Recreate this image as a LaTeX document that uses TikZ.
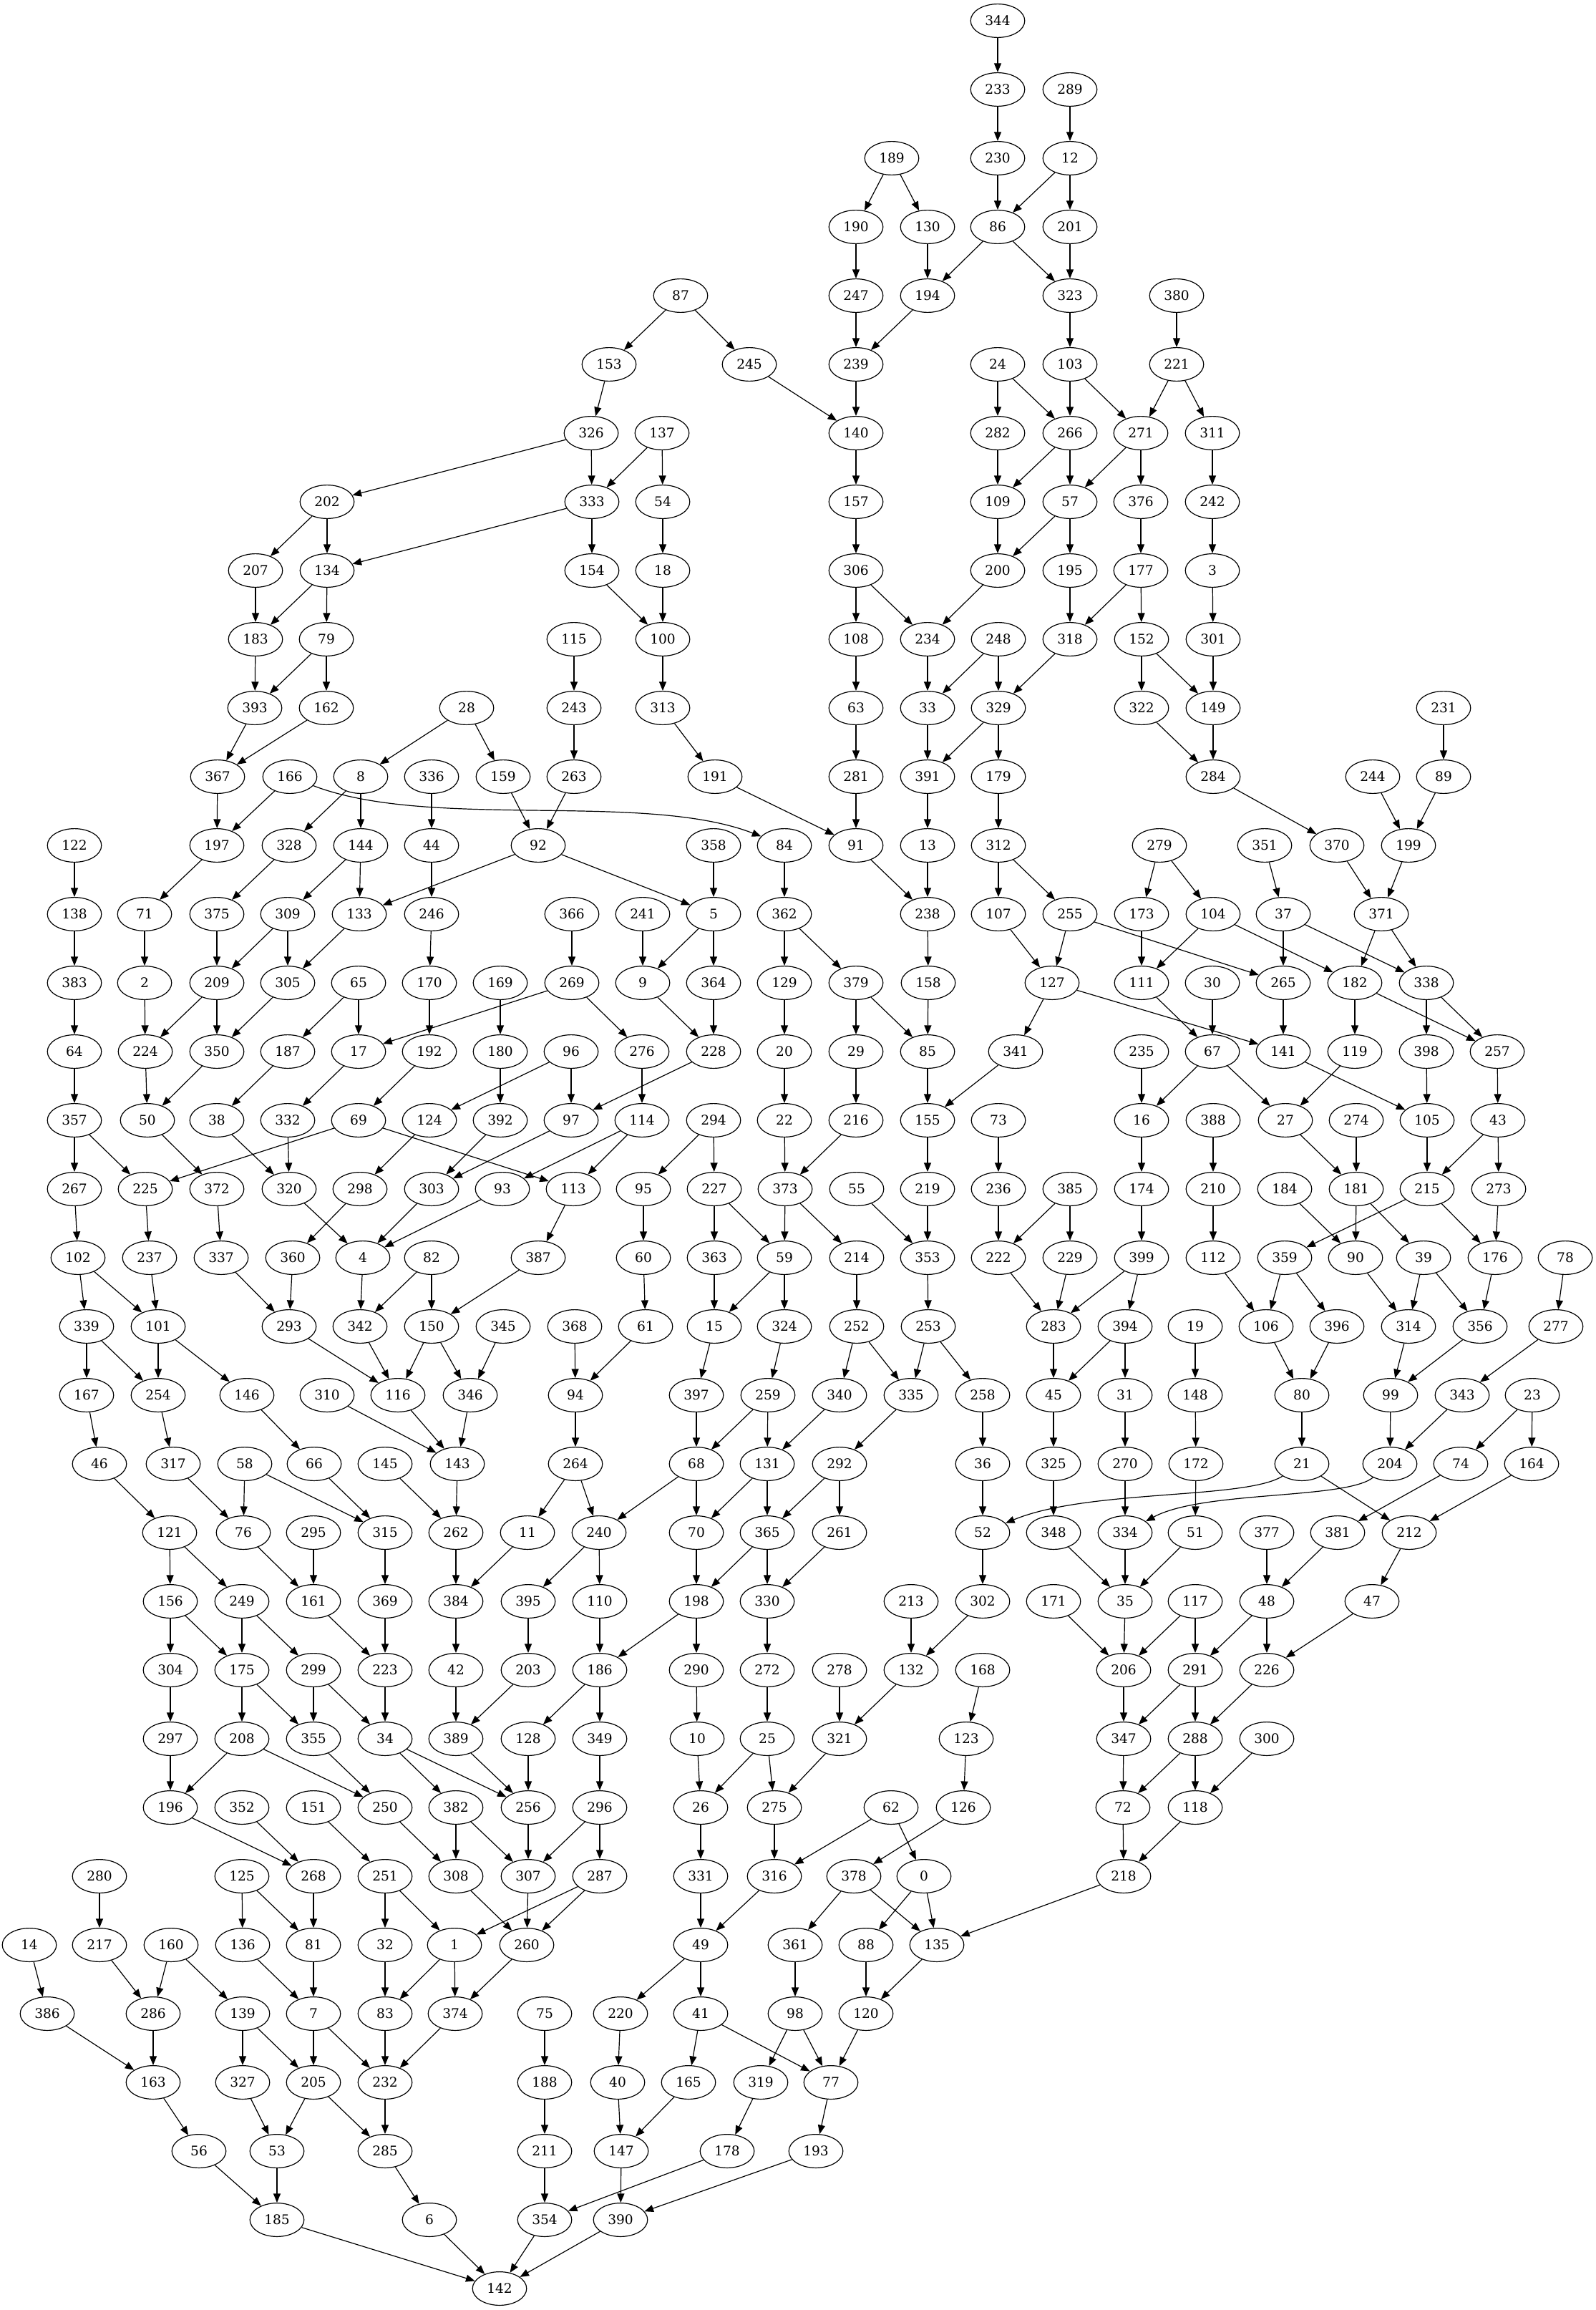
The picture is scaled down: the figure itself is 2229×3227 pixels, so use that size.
\documentclass[tikz,border=0pt]{standalone}
\usepackage{fontspec}
\setmainfont{DejaVu Serif}
\usepackage{tikz}
\usetikzlibrary{shapes.geometric, arrows.meta}
\tikzset{
    oval/.style={ellipse, draw, line width=0.6pt, minimum width=37.8pt, minimum height=23.4pt, inner sep=0pt, font=\fontsize{9.3}{11}\selectfont},
    arrow/.style={-{Triangle[length=6.3pt, width=5pt]}, line width=0.6pt}
}
\begin{document}
\begin{tikzpicture}[x=0.5pt, y=0.5pt]
    \useasboundingbox (0,0) rectangle (2229,-3227);
    \foreach \id/\px in {344/1394} \node (v\id) [oval] at (\px,-29) {\id};
    \foreach \id/\px in {233/1394, 289/1495} \node (v\id) [oval] at (\px,-125) {\id};
    \foreach \id/\px in {189/1246, 230/1394, 12/1495} \node (v\id) [oval] at (\px,-221) {\id};
    \foreach \id/\px in {190/1196, 130/1296, 86/1394, 201/1495} \node (v\id) [oval] at (\px,-317) {\id};
    \foreach \id/\px in {87/951, 247/1196, 194/1296, 323/1495, 380/1644} \node (v\id) [oval] at (\px,-413) {\id};
    \foreach \id/\px in {153/851, 245/1047, 239/1196, 24/1394, 103/1495, 221/1644} \node (v\id) [oval] at (\px,-509) {\id};
    \foreach \id/\px in {326/826, 137/925, 140/1196, 282/1394, 266/1495, 271/1594, 311/1694} \node (v\id) [oval] at (\px,-605) {\id};
    \foreach \id/\px in {202/457, 333/827, 54/926, 157/1196, 109/1394, 57/1495, 376/1594, 242/1694} \node (v\id) [oval] at (\px,-701) {\id};
    \foreach \id/\px in {207/357, 134/457, 154/827, 18/926, 306/1196, 200/1394, 195/1495, 177/1594, 3/1694} \node (v\id) [oval] at (\px,-797) {\id};
    \foreach \id/\px in {183/357, 79/456, 115/802, 100/926, 108/1196, 234/1296, 248/1395, 318/1495, 152/1595, 301/1695} \node (v\id) [oval] at (\px,-893) {\id};
    \foreach \id/\px in {393/356, 162/456, 28/652, 243/802, 313/926, 63/1196, 33/1296, 329/1395, 322/1595, 149/1695, 231/2017} \node (v\id) [oval] at (\px,-989) {\id};
    \foreach \id/\px in {367/304, 166/405, 8/504, 336/603, 159/703, 263/802, 191/999, 281/1196, 391/1296, 179/1395, 284/1695, 244/1918, 89/2017} \node (v\id) [oval] at (\px,-1085) {\id};
    \foreach \id/\px in {122/104, 197/303, 328/404, 144/504, 44/603, 92/752, 358/997, 84/1096, 91/1196, 13/1296, 312/1395, 279/1620, 351/1767, 370/1868, 199/1968} \node (v\id) [oval] at (\px,-1181) {\id};
    \foreach \id/\px in {138/104, 71/202, 375/303, 309/402, 133/502, 246/603, 366/799, 241/898, 5/997, 362/1096, 238/1296, 107/1395, 255/1495, 173/1595, 104/1695, 37/1793, 371/1930} \node (v\id) [oval] at (\px,-1277) {\id};
    \foreach \id/\px in {383/104, 2/202, 209/303, 305/402, 65/501, 170/600, 169/699, 269/799, 9/898, 364/997, 129/1096, 379/1196, 158/1297, 127/1470, 111/1595, 30/1694, 265/1793, 182/1893, 338/1993} \node (v\id) [oval] at (\px,-1373) {\id};
    \foreach \id/\px in {64/104, 224/203, 350/303, 187/402, 17/501, 192/600, 180/699, 96/798, 276/897, 228/997, 20/1096, 29/1196, 85/1296, 341/1419, 235/1595, 67/1694, 141/1793, 119/1893, 398/1993, 257/2092} \node (v\id) [oval] at (\px,-1469) {\id};
    \foreach \id/\px in {357/104, 50/206, 38/303, 332/402, 69/501, 124/600, 392/699, 97/798, 114/897, 294/997, 22/1096, 216/1196, 155/1296, 73/1395, 16/1595, 388/1695, 27/1796, 274/1895, 105/1994, 43/2093} \node (v\id) [oval] at (\px,-1565) {\id};
    \foreach \id/\px in {267/104, 225/203, 372/303, 320/404, 298/503, 303/603, 93/702, 113/801, 95/899, 227/998, 373/1097, 55/1197, 219/1296, 236/1395, 385/1495, 174/1595, 210/1695, 184/1795, 181/1895, 215/1994, 273/2094} \node (v\id) [oval] at (\px,-1661) {\id};
    \foreach \id/\px in {102/109, 237/209, 337/309, 360/409, 4/507, 82/603, 387/752, 60/899, 363/998, 59/1096, 214/1197, 353/1296, 222/1395, 229/1495, 399/1595, 112/1695, 359/1795, 90/1894, 39/1989, 176/2089, 78/2187} \node (v\id) [oval] at (\px,-1757) {\id};
    \foreach \id/\px in {339/121, 101/221, 293/404, 342/503, 150/603, 345/703, 368/803, 61/902, 15/998, 324/1096, 252/1197, 253/1297, 283/1472, 394/1572, 19/1670, 106/1769, 396/1868, 314/1968, 356/2068, 277/2174} \node (v\id) [oval] at (\px,-1853) {\id};
    \foreach \id/\px in {167/121, 254/221, 146/345, 310/457, 116/556, 346/657, 94/804, 397/973, 259/1073, 340/1173, 335/1273, 258/1373, 45/1472, 31/1572, 148/1670, 80/1819, 99/1943, 343/2043, 23/2141} \node (v\id) [oval] at (\px,-1949) {\id};
    \foreach \id/\px in {46/139, 317/242, 58/342, 66/439, 145/538, 143/639, 264/804, 68/973, 131/1072, 292/1173, 36/1373, 325/1472, 270/1572, 172/1671, 21/1819, 204/1942, 74/2041, 164/2140} \node (v\id) [oval] at (\px,-2045) {\id};
    \foreach \id/\px in {121/237, 76/340, 295/438, 315/538, 262/637, 11/737, 240/837, 70/973, 365/1072, 261/1173, 52/1373, 348/1472, 334/1572, 51/1670, 377/1770, 381/1869, 212/1969} \node (v\id) [oval] at (\px,-2141) {\id};
    \foreach \id/\px in {156/238, 249/338, 161/438, 369/538, 384/637, 395/738, 110/838, 198/973, 330/1072, 213/1273, 302/1373, 171/1472, 35/1572, 117/1670, 48/1770, 47/1917} \node (v\id) [oval] at (\px,-2237) {\id};
    \foreach \id/\px in {304/238, 175/338, 299/438, 223/538, 42/637, 203/738, 186/838, 290/973, 272/1072, 278/1173, 132/1273, 168/1373, 206/1570, 291/1670, 226/1770} \node (v\id) [oval] at (\px,-2333) {\id};
    \foreach \id/\px in {297/238, 208/338, 355/438, 34/538, 389/637, 128/738, 349/838, 10/974, 25/1072, 321/1173, 123/1350, 347/1570, 288/1670, 300/1770} \node (v\id) [oval] at (\px,-2429) {\id};
    \foreach \id/\px in {196/238, 352/338, 151/438, 250/538, 382/637, 256/738, 296/838, 26/979, 275/1082, 62/1245, 126/1346, 72/1569, 118/1670} \node (v\id) [oval] at (\px,-2525) {\id};
    \foreach \id/\px in {280/139, 125/338, 268/438, 251/538, 308/637, 307/738, 287/838, 331/979, 316/1082, 378/1193, 0/1291, 218/1570} \node (v\id) [oval] at (\px,-2621) {\id};
    \foreach \id/\px in {14/41, 217/139, 160/239, 136/339, 81/438, 32/538, 1/635, 260/736, 49/979, 361/1111, 88/1210, 135/1309} \node (v\id) [oval] at (\px,-2717) {\id};
    \foreach \id/\px in {386/66, 286/214, 139/339, 7/438, 83/538, 374/636, 75/761, 220/867, 41/979, 98/1111, 120/1210} \node (v\id) [oval] at (\px,-2813) {\id};
    \foreach \id/\px in {163/214, 327/339, 205/438, 232/538, 188/761, 40/863, 165/962, 319/1063, 77/1161} \node (v\id) [oval] at (\px,-2909) {\id};
    \foreach \id/\px in {56/278, 53/387, 285/538, 211/761, 147/868, 178/1016, 193/1140} \node (v\id) [oval] at (\px,-3005) {\id};
    \foreach \id/\px in {185/387, 6/600, 354/761, 390/867} \node (v\id) [oval] at (\px,-3101) {\id};
    \foreach \id/\px in {142/698} \node (v\id) [oval] at (\px,-3197) {\id};

    \foreach \a/\b in {344/233, 233/230, 289/12, 189/190, 189/130, 230/86, 12/86, 12/201, 190/247, 130/194, 86/194, 86/323, 201/323} \draw [arrow] (v\a) -- (v\b);
    \foreach \a/\b in {87/153, 87/245, 247/239, 194/239, 323/103, 380/221, 153/326, 245/140, 239/140, 24/282, 24/266, 103/266, 103/271, 221/271, 221/311} \draw [arrow] (v\a) -- (v\b);
    \foreach \a/\b in {326/202, 326/333, 137/333, 137/54, 140/157, 282/109, 266/109, 266/57, 271/57, 271/376, 311/242} \draw [arrow] (v\a) -- (v\b);
    \foreach \a/\b in {202/207, 202/134, 333/134, 333/154, 54/18, 157/306, 109/200, 57/200, 57/195, 376/177, 242/3} \draw [arrow] (v\a) -- (v\b);
    \foreach \a/\b in {207/183, 134/183, 134/79, 154/100, 18/100, 306/108, 306/234, 200/234, 195/318, 177/318, 177/152, 3/301} \draw [arrow] (v\a) -- (v\b);
    \foreach \a/\b in {183/393, 79/393, 79/162, 115/243, 100/313, 108/63, 234/33, 248/33, 248/329, 318/329, 152/322, 152/149, 301/149} \draw [arrow] (v\a) -- (v\b);
    \foreach \a/\b in {393/367, 162/367, 28/8, 28/159, 243/263, 313/191, 63/281, 33/391, 329/391, 329/179, 322/284, 149/284, 231/89} \draw [arrow] (v\a) -- (v\b);
    \foreach \a/\b in {367/197, 166/197, 8/328, 8/144, 336/44, 159/92, 263/92, 191/91, 281/91, 391/13, 179/312, 284/370, 244/199, 89/199} \draw [arrow] (v\a) -- (v\b);
    \foreach \a/\b in {122/138, 197/71, 328/375, 144/309, 144/133, 92/133, 44/246, 92/5, 358/5, 84/362, 91/238, 13/238, 312/107, 312/255, 279/173, 279/104, 351/37, 370/371, 199/371} \draw [arrow] (v\a) -- (v\b);
    \foreach \a/\b in {138/383, 71/2, 375/209, 309/209, 309/305, 133/305, 246/170, 366/269, 241/9, 5/9, 5/364, 362/129, 362/379, 238/158, 107/127, 255/127, 255/265, 173/111, 104/111, 104/182, 37/265, 37/338, 371/182, 371/338} \draw [arrow] (v\a) -- (v\b);
    \foreach \a/\b in {383/64, 2/224, 209/224, 209/350, 305/350, 65/187, 65/17, 269/17, 170/192, 169/180, 269/276, 9/228, 364/228, 129/20, 379/29, 379/85, 158/85, 127/341, 111/67, 30/67, 127/141, 265/141, 182/119, 338/398, 182/257, 338/257} \draw [arrow] (v\a) -- (v\b);
    \foreach \a/\b in {64/357, 224/50, 350/50, 187/38, 17/332, 192/69, 96/124, 180/392, 96/97, 228/97, 276/114, 20/22, 29/216, 85/155, 341/155, 235/16, 67/16, 67/27, 119/27, 141/105, 398/105, 257/43} \draw [arrow] (v\a) -- (v\b);
    \foreach \a/\b in {357/267, 357/225, 69/225, 50/372, 38/320, 332/320, 124/298, 392/303, 97/303, 114/93, 69/113, 114/113, 294/95, 294/227, 22/373, 216/373, 155/219, 73/236, 16/174, 388/210, 27/181, 274/181, 105/215, 43/215, 43/273} \draw [arrow] (v\a) -- (v\b);
    \foreach \a/\b in {267/102, 225/237, 372/337, 298/360, 320/4, 303/4, 93/4, 113/387, 95/60, 227/363, 227/59, 373/59, 373/214, 55/353, 219/353, 236/222, 385/222, 385/229, 174/399, 210/112, 215/359, 184/90, 181/90, 181/39, 215/176, 273/176} \draw [arrow] (v\a) -- (v\b);
    \foreach \a/\b in {102/339, 102/101, 237/101, 337/293, 360/293, 4/342, 82/342, 82/150, 387/150, 60/61, 363/15, 59/15, 59/324, 214/252, 353/253, 222/283, 229/283, 399/283, 399/394, 112/106, 359/106, 359/396, 90/314, 39/314, 39/356, 176/356, 78/277} \draw [arrow] (v\a) -- (v\b);
    \foreach \a/\b in {339/167, 339/254, 101/254, 101/146, 293/116, 342/116, 150/116, 150/346, 345/346, 368/94, 61/94, 15/397, 324/259, 252/340, 252/335, 253/335, 253/258, 283/45, 394/45, 394/31, 19/148, 106/80, 396/80, 314/99, 356/99, 277/343} \draw [arrow] (v\a) -- (v\b);
    \foreach \a/\b in {167/46, 254/317, 146/66, 310/143, 116/143, 346/143, 94/264, 397/68, 259/68, 259/131, 340/131, 335/292, 258/36, 45/325, 31/270, 148/172, 80/21, 99/204, 343/204, 23/74, 23/164} \draw [arrow] (v\a) -- (v\b);
    \foreach \a/\b in {46/121, 317/76, 58/76, 58/315, 66/315, 145/262, 143/262, 264/11, 264/240, 68/240, 68/70, 131/70, 131/365, 292/365, 292/261, 36/52, 325/348, 270/334, 172/51, 74/381, 21/212, 164/212} \draw [arrow] (v\a) -- (v\b);
    \foreach \a/\b in {121/156, 121/249, 76/161, 295/161, 315/369, 262/384, 11/384, 240/395, 240/110, 70/198, 365/198, 365/330, 261/330, 52/302, 348/35, 334/35, 51/35, 377/48, 381/48, 212/47} \draw [arrow] (v\a) -- (v\b);
    \foreach \a/\b in {156/304, 156/175, 249/175, 249/299, 161/223, 369/223, 384/42, 395/203, 110/186, 198/186, 198/290, 330/272, 213/132, 302/132, 171/206, 35/206, 117/206, 117/291, 48/291, 48/226, 47/226} \draw [arrow] (v\a) -- (v\b);
    \foreach \a/\b in {304/297, 175/208, 175/355, 299/355, 299/34, 223/34, 42/389, 203/389, 186/128, 186/349, 290/10, 272/25, 278/321, 132/321, 168/123, 206/347, 291/347, 291/288, 226/288} \draw [arrow] (v\a) -- (v\b);
    \foreach \a/\b in {297/196, 208/196, 208/250, 355/250, 34/382, 34/256, 389/256, 128/256, 349/296, 10/26, 25/26, 25/275, 321/275, 123/126, 347/72, 288/72, 288/118, 300/118} \draw [arrow] (v\a) -- (v\b);
    \foreach \a/\b in {196/268, 352/268, 151/251, 250/308, 382/308, 382/307, 256/307, 296/307, 296/287, 26/331, 275/316, 62/316, 62/0, 126/378, 72/218, 118/218} \draw [arrow] (v\a) -- (v\b);
    \foreach \a/\b in {280/217, 125/136, 125/81, 268/81, 251/32, 251/1, 287/1, 308/260, 307/260, 287/260, 331/49, 316/49, 378/361, 378/135, 0/88, 0/135, 218/135} \draw [arrow] (v\a) -- (v\b);
    \foreach \a/\b in {14/386, 217/286, 160/286, 160/139, 136/7, 81/7, 32/83, 1/83, 1/374, 260/374, 49/220, 49/41, 361/98, 88/120, 135/120} \draw [arrow] (v\a) -- (v\b);
    \foreach \a/\b in {386/163, 286/163, 139/327, 139/205, 7/205, 7/232, 83/232, 374/232, 75/188, 220/40, 41/165, 41/77, 98/319, 98/77, 120/77} \draw [arrow] (v\a) -- (v\b);
    \foreach \a/\b in {163/56, 327/53, 205/53, 205/285, 232/285, 188/211, 40/147, 165/147, 319/178, 77/193} \draw [arrow] (v\a) -- (v\b);
    \foreach \a/\b in {56/185, 53/185, 285/6, 211/354, 178/354, 147/390, 193/390, 185/142, 6/142, 354/142, 390/142} \draw [arrow] (v\a) -- (v\b);

    \draw [arrow] (v166) .. controls (600,-1160) and (900,-1105) .. (v84);
    \draw [arrow] (v21) .. controls (1740,-2095) and (1520,-2080) .. (v52);
    \draw [arrow] (v204) .. controls (1880,-2095) and (1680,-2082) .. (v334);
\end{tikzpicture}
\end{document}
